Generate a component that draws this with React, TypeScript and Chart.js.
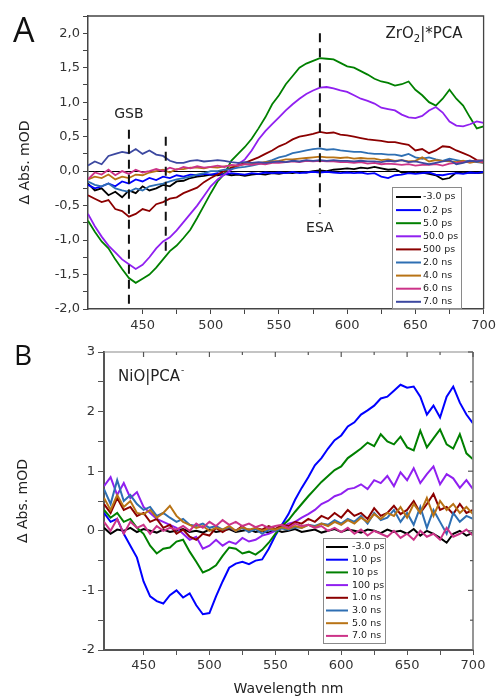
import React, { useEffect, useRef } from "react";
import { Chart, registerables } from "chart.js";

Chart.register(...registerables);

const FONT = "DejaVu Sans";
Chart.defaults.font.family = FONT;

// ---------------- Panel A: ZrO2|*PCA ----------------
const wavelengthA = [
  410, 415, 420, 425, 430, 435, 440, 445, 450, 455,
  460, 465, 470, 475, 480, 485, 490, 495, 500, 505,
  510, 515, 520, 525, 530, 535, 540, 545, 550, 555,
  560, 565, 570, 575, 580, 585, 590, 595, 600, 605,
  610, 615, 620, 625, 630, 635, 640, 645, 650, 655,
  660, 665, 670, 675, 680, 685, 690, 695, 700,
];
const labelsA = ["-3.0 ps", "0.2 ps", "5.0 ps", "50.0 ps", "500 ps", "2.0 ns", "4.0 ns", "6.0 ns", "7.0 ns"];
const colorsA = ["#000000", "#0000ff", "#008000", "#9020f0", "#8b0000", "#2e6fb3", "#b87315", "#cc3388", "#3c48a0"];

const zrM3ps = [
  -0.18, -0.28, -0.25, -0.35, -0.30, -0.38, -0.28, -0.32, -0.22, -0.28,
  -0.25, -0.20, -0.22, -0.15, -0.14, -0.10, -0.08, -0.07, -0.05, -0.06,
  -0.04, -0.06, -0.05, -0.07, -0.05, -0.04, -0.05, -0.03, -0.04, -0.02,
  -0.03, -0.01, -0.02, 0.00, 0.01, 0.00, 0.02, 0.03, 0.04, 0.03,
  0.05, 0.04, 0.06, 0.04, 0.02, 0.03, -0.02, -0.01, -0.03, -0.02,
  -0.04, -0.06, -0.12, -0.10, -0.02, -0.03, -0.02, -0.03, -0.02,
];
const zr02ps = [
  -0.20, -0.25, -0.22, -0.18, -0.22, -0.15, -0.18, -0.12, -0.15, -0.10,
  -0.13, -0.08, -0.10, -0.06, -0.08, -0.05, -0.06, -0.04, -0.05, -0.03,
  -0.05, -0.03, -0.04, -0.05, -0.03, -0.04, -0.02, -0.03, -0.02, -0.03,
  -0.01, -0.03, -0.02, -0.01, -0.02, -0.01, -0.02, -0.03, -0.02, -0.03,
  -0.02, -0.04, -0.03, -0.08, -0.10, -0.06, -0.05, -0.03, -0.04, -0.03,
  -0.02, -0.05, -0.06, -0.04, -0.03, -0.04, -0.02, -0.03, -0.01,
];
const zr5ps = [
  -0.72, -0.88, -1.02, -1.12, -1.28, -1.42, -1.55, -1.62, -1.56, -1.50,
  -1.40, -1.28, -1.16, -1.08, -0.97, -0.85, -0.68, -0.50, -0.32, -0.15,
  -0.04, 0.15, 0.25, 0.35, 0.47, 0.62, 0.78, 0.97, 1.10, 1.26,
  1.38, 1.50, 1.56, 1.60, 1.64, 1.63, 1.62, 1.57, 1.52, 1.50,
  1.45, 1.40, 1.34, 1.30, 1.28, 1.24, 1.26, 1.30, 1.18, 1.10,
  1.00, 0.95, 1.05, 1.18, 1.05, 0.95, 0.78, 0.62, 0.65,
];
const zr50ps = [
  -0.62, -0.80, -0.95, -1.08, -1.18, -1.28, -1.35, -1.42, -1.36, -1.25,
  -1.12, -1.02, -0.96, -0.86, -0.74, -0.62, -0.50, -0.36, -0.22, -0.12,
  -0.05, 0.02, 0.10, 0.17, 0.30, 0.46, 0.58, 0.68, 0.78, 0.88,
  0.97, 1.05, 1.12, 1.17, 1.21, 1.22, 1.20, 1.17, 1.15, 1.10,
  1.05, 1.02, 0.98, 0.92, 0.90, 0.88, 0.82, 0.78, 0.77, 0.80,
  0.88, 0.93, 0.85, 0.72, 0.66, 0.65, 0.68, 0.72, 0.70,
];
const zr500ps = [
  -0.35, -0.40, -0.45, -0.42, -0.55, -0.58, -0.66, -0.62, -0.55, -0.58,
  -0.48, -0.45, -0.40, -0.38, -0.32, -0.28, -0.24, -0.16, -0.10, -0.05,
  0.00, 0.05, 0.08, 0.12, 0.16, 0.20, 0.25, 0.30, 0.36, 0.40,
  0.46, 0.50, 0.52, 0.54, 0.57, 0.55, 0.56, 0.53, 0.52, 0.50,
  0.48, 0.46, 0.45, 0.44, 0.42, 0.42, 0.40, 0.38, 0.30, 0.32,
  0.26, 0.30, 0.36, 0.35, 0.30, 0.26, 0.22, 0.16, 0.15,
];
const zr2ns = [
  -0.15, -0.20, -0.22, -0.18, -0.25, -0.28, -0.30, -0.25, -0.28, -0.22,
  -0.20, -0.18, -0.15, -0.12, -0.10, -0.08, -0.05, -0.03, 0.00, 0.00,
  0.02, 0.03, 0.05, 0.06, 0.08, 0.10, 0.13, 0.16, 0.20, 0.22,
  0.26, 0.28, 0.30, 0.32, 0.33, 0.31, 0.32, 0.30, 0.29, 0.28,
  0.28, 0.26, 0.25, 0.25, 0.24, 0.24, 0.22, 0.25, 0.20, 0.18,
  0.20, 0.17, 0.15, 0.18, 0.16, 0.14, 0.15, 0.13, 0.12,
];
const zr4ns = [
  -0.12, -0.08, -0.10, -0.05, -0.12, -0.08, -0.10, -0.05, -0.06, -0.02,
  0.00, 0.02, -0.02, 0.03, 0.03, 0.05, 0.05, 0.04, 0.06, 0.05,
  0.07, 0.08, 0.08, 0.10, 0.10, 0.12, 0.13, 0.14, 0.15, 0.17,
  0.17, 0.18, 0.19, 0.20, 0.21, 0.20, 0.20, 0.19, 0.20, 0.18,
  0.19, 0.18, 0.18, 0.16, 0.17, 0.15, 0.16, 0.14, 0.15, 0.20,
  0.14, 0.16, 0.15, 0.14, 0.13, 0.15, 0.12, 0.14, 0.12,
];
const zr6ns = [
  -0.12, -0.02, -0.05, 0.02, -0.06, 0.00, -0.04, 0.02, -0.02, 0.00,
  0.03, 0.00, 0.05, 0.02, 0.06, 0.04, 0.07, 0.05, 0.06, 0.08,
  0.06, 0.09, 0.08, 0.10, 0.09, 0.11, 0.10, 0.12, 0.12, 0.13,
  0.14, 0.13, 0.15, 0.14, 0.15, 0.14, 0.14, 0.13, 0.13, 0.12,
  0.13, 0.11, 0.12, 0.10, 0.11, 0.10, 0.09, 0.10, 0.08, 0.09,
  0.09, 0.10, 0.08, 0.11, 0.12, 0.13, 0.14, 0.15, 0.13,
];
const zr7ns = [
  0.08, 0.14, 0.10, 0.22, 0.25, 0.28, 0.26, 0.32, 0.25, 0.30,
  0.24, 0.22, 0.15, 0.12, 0.12, 0.15, 0.16, 0.14, 0.15, 0.16,
  0.15, 0.13, 0.12, 0.13, 0.12, 0.13, 0.12, 0.13, 0.14, 0.13,
  0.15, 0.14, 0.16, 0.15, 0.16, 0.15, 0.16, 0.15, 0.15, 0.14,
  0.15, 0.14, 0.14, 0.13, 0.15, 0.14, 0.16, 0.13, 0.14, 0.12,
  0.10, 0.12, 0.14, 0.16, 0.10, 0.12, 0.15, 0.14, 0.16,
];
const seriesA = [zrM3ps, zr02ps, zr5ps, zr50ps, zr500ps, zr2ns, zr4ns, zr6ns, zr7ns];

// dashed marker lines: [wavelength, from value, to value]
const markersA = [
  [440, 0.6, -1.95],
  [467, 0.5, -1.2],
  [580, 2.0, -0.62],
];

// ---------------- Panel B: NiO|PCA- ----------------
const wavelengthB = [
  420, 425, 430, 435, 440, 445, 450, 455, 460, 465,
  470, 475, 480, 485, 490, 495, 500, 505, 510, 515,
  520, 525, 530, 535, 540, 545, 550, 555, 560, 565,
  570, 575, 580, 585, 590, 595, 600, 605, 610, 615,
  620, 625, 630, 635, 640, 645, 650, 655, 660, 665,
  670, 675, 680, 685, 690, 695, 700,
];
const labelsB = ["-3.0 ps", "1.0 ps", "10 ps", "100 ps", "1.0 ns", "3.0 ns", "5.0 ns", "7.0 ns"];
const colorsB = ["#000000", "#0000ff", "#008000", "#9020f0", "#8b0000", "#2e6fb3", "#b87315", "#cc3388"];

const niM3ps = [
  0.05, -0.05, 0.02, 0.00, 0.05, -0.02, 0.03, 0.00, -0.03, 0.02,
  -0.02, 0.00, 0.03, -0.02, 0.00, -0.03, 0.02, -0.02, 0.00, 0.03,
  -0.02, 0.00, 0.02, -0.02, 0.00, -0.03, 0.02, -0.02, 0.00, 0.03,
  -0.02, 0.00, 0.02, -0.03, 0.00, 0.03, -0.02, 0.02, 0.00, -0.03,
  0.02, 0.00, -0.04, 0.02, -0.02, 0.00, -0.05, 0.03, -0.08, 0.00,
  -0.05, -0.12, -0.20, -0.05, 0.00, -0.08, -0.03,
];
const ni1ps = [
  0.30, 0.15, 0.20, -0.05, -0.25, -0.45, -0.85, -1.10, -1.18, -1.22,
  -1.08, -1.00, -1.12, -1.05, -1.25, -1.40, -1.38, -1.10, -0.85, -0.62,
  -0.55, -0.52, -0.56, -0.50, -0.48, -0.30, -0.08, 0.10, 0.28, 0.52,
  0.72, 0.90, 1.10, 1.22, 1.38, 1.52, 1.60, 1.75, 1.82, 1.95,
  2.02, 2.10, 2.22, 2.25, 2.35, 2.45, 2.40, 2.42, 2.25, 1.95,
  2.10, 1.90, 2.25, 2.42, 2.15, 1.95, 1.80,
];
const ni10ps = [
  0.35, 0.22, 0.30, 0.15, 0.20, 0.05, -0.05, -0.25, -0.38, -0.30,
  -0.28, -0.18, -0.15, -0.35, -0.52, -0.70, -0.65, -0.58, -0.42, -0.28,
  -0.30, -0.38, -0.35, -0.40, -0.32, -0.20, -0.05, 0.08, 0.18, 0.32,
  0.45, 0.58, 0.70, 0.82, 0.92, 1.02, 1.08, 1.22, 1.30, 1.38,
  1.48, 1.42, 1.62, 1.50, 1.45, 1.58, 1.40, 1.35, 1.68, 1.40,
  1.55, 1.70, 1.45, 1.38, 1.62, 1.30, 1.20,
];
const ni100ps = [
  0.75, 0.90, 0.60, 0.80, 0.55, 0.65, 0.40, 0.30, 0.20, 0.15,
  0.10, 0.05, -0.05, -0.15, -0.10, -0.30, -0.25, -0.15, -0.25, -0.18,
  -0.22, -0.12, -0.18, -0.15, -0.08, -0.05, 0.00, 0.05, 0.12, 0.15,
  0.22, 0.28, 0.35, 0.45, 0.50, 0.58, 0.62, 0.70, 0.72, 0.78,
  0.70, 0.85, 0.80, 0.92, 0.75, 0.98, 0.85, 1.05, 0.80, 0.95,
  1.08, 0.78, 0.95, 0.88, 0.72, 0.85, 0.70,
];
const ni1ns = [
  0.45, 0.30, 0.55, 0.35, 0.40, 0.25, 0.30, 0.15, 0.20, 0.05,
  0.10, -0.05, 0.02, -0.10, -0.15, -0.05, -0.08, 0.05, -0.02, 0.05,
  0.00, 0.08, -0.02, 0.05, 0.02, 0.08, 0.03, 0.10, 0.08, 0.15,
  0.12, 0.20, 0.15, 0.25, 0.20, 0.30, 0.22, 0.35, 0.25, 0.30,
  0.20, 0.38, 0.25, 0.30, 0.42, 0.28, 0.35, 0.50, 0.30, 0.45,
  0.62, 0.35, 0.40, 0.28, 0.45, 0.30, 0.35,
];
const ni3ns = [
  0.70, 0.45, 0.85, 0.50, 0.60, 0.45, 0.35, 0.40, 0.25, 0.30,
  0.22, 0.15, 0.20, 0.10, 0.08, 0.12, 0.05, 0.08, 0.02, 0.06,
  0.00, 0.05, -0.02, 0.03, -0.05, 0.02, 0.00, 0.04, 0.02, 0.06,
  0.05, 0.10, 0.08, 0.12, 0.10, 0.18, 0.12, 0.20, 0.15, 0.25,
  0.12, 0.30, 0.18, 0.22, 0.35, 0.15, 0.30, 0.10, 0.40, 0.05,
  0.35, 0.15, -0.05, 0.30, 0.15, 0.25, 0.20,
];
const ni5ns = [
  0.55, 0.35, 0.60, 0.40, 0.50, 0.30, 0.28, 0.35, 0.22, 0.30,
  0.42, 0.25, 0.15, 0.10, 0.05, 0.08, 0.00, 0.05, 0.02, 0.08,
  0.00, 0.06, 0.02, 0.05, 0.00, 0.04, 0.02, 0.06, 0.03, 0.08,
  0.05, 0.10, 0.06, 0.12, 0.08, 0.15, 0.10, 0.18, 0.12, 0.22,
  0.15, 0.28, 0.20, 0.30, 0.25, 0.40, 0.22, 0.45, 0.30, 0.55,
  0.25, 0.50, 0.35, 0.45, 0.30, 0.40, 0.28,
];
const ni7ns = [
  0.15, 0.00, 0.20, -0.05, 0.15, 0.05, 0.10, -0.05, 0.08, 0.00,
  0.05, 0.02, 0.08, 0.00, 0.12, 0.05, 0.15, 0.08, 0.18, 0.10,
  0.15, 0.08, 0.12, 0.06, 0.10, 0.05, 0.08, 0.10, 0.05, 0.12,
  0.08, 0.10, 0.05, 0.08, 0.00, 0.05, -0.02, 0.05, -0.05, 0.02,
  -0.08, 0.00, -0.05, -0.10, 0.00, -0.12, -0.05, -0.15, 0.00, -0.10,
  -0.05, -0.15, 0.05, -0.10, -0.05, 0.02, -0.08,
];
const seriesB = [niM3ps, ni1ps, ni10ps, ni100ps, ni1ns, ni3ns, ni5ns, ni7ns];

// ---------------- helpers ----------------
function makeDatasets(xs: number[], series: number[][], colors: string[], labels: string[], width: number) {
  return series.map((s, i) => ({
    label: labels[i],
    data: xs.map((x, j) => ({ x, y: s[j] })),
    borderColor: colors[i],
    backgroundColor: colors[i],
    borderWidth: width,
    pointRadius: 0,
    tension: 0,
    order: series.length - i,
  }));
}

function drawLegend(
  ctx: CanvasRenderingContext2D,
  box: { x: number; y: number; w: number; h: number },
  labels: string[],
  colors: string[],
  firstRow: number,
  rowGap: number,
  sx0: number,
  sx1: number,
  tx: number
) {
  ctx.save();
  ctx.fillStyle = "#ffffff";
  ctx.fillRect(box.x, box.y, box.w, box.h);
  ctx.strokeStyle = "#8a8a8a";
  ctx.lineWidth = 1;
  ctx.strokeRect(box.x + 0.5, box.y + 0.5, box.w, box.h);
  ctx.font = `9.5px ${FONT}`;
  ctx.textAlign = "left";
  ctx.textBaseline = "middle";
  labels.forEach((lab, i) => {
    const y = firstRow + i * rowGap;
    ctx.strokeStyle = colors[i];
    ctx.lineWidth = 2;
    ctx.beginPath();
    ctx.moveTo(sx0, y);
    ctx.lineTo(sx1, y);
    ctx.stroke();
    ctx.fillStyle = "#222";
    ctx.fillText(lab, tx, y);
  });
  ctx.restore();
}

const decoA = {
  id: "decoA",
  afterDraw(chart: any) {
    const { ctx, chartArea: ca, scales } = chart;
    const xs = scales.x;
    const ys = scales.y;
    ctx.save();
    // frame (top + right)
    ctx.strokeStyle = "#444";
    ctx.lineWidth = 1.3;
    ctx.beginPath();
    ctx.moveTo(ca.left, ca.top);
    ctx.lineTo(ca.right, ca.top);
    ctx.lineTo(ca.right, ca.bottom);
    ctx.stroke();
    // dashed markers
    ctx.setLineDash([9, 6]);
    ctx.lineWidth = 2;
    ctx.strokeStyle = "#111";
    markersA.forEach(([w, v0, v1]) => {
      const px = xs.getPixelForValue(w);
      ctx.beginPath();
      ctx.moveTo(px, ys.getPixelForValue(v0));
      ctx.lineTo(px, ys.getPixelForValue(v1));
      ctx.stroke();
    });
    ctx.setLineDash([]);
    // labels
    ctx.fillStyle = "#222";
    ctx.font = `14px ${FONT}`;
    ctx.textAlign = "center";
    ctx.textBaseline = "middle";
    ctx.fillText("GSB", xs.getPixelForValue(440), ys.getPixelForValue(0.82));
    ctx.fillText("ESA", xs.getPixelForValue(580), ys.getPixelForValue(-0.83));
    // sample name ZrO2|*PCA
    ctx.textAlign = "left";
    ctx.textBaseline = "alphabetic";
    let x = ca.right - 98;
    const base = ca.top + 22;
    ctx.font = `15px ${FONT}`;
    ctx.fillText("ZrO", x, base);
    x += ctx.measureText("ZrO").width;
    ctx.font = `10px ${FONT}`;
    ctx.fillText("2", x, base + 4);
    x += ctx.measureText("2").width;
    ctx.font = `15px ${FONT}`;
    ctx.fillText("|*PCA", x, base);
    // panel letter
    ctx.font = `34px "Open Sans"`;
    ctx.fillStyle = "#111";
    ctx.fillText("A", 13, 42);
    ctx.restore();
    // legend
    drawLegend(ctx, { x: 392, y: 187, w: 69, h: 121 }, labelsA, colorsA, 197, 13.1, 396, 421, 423);
  },
};

const decoB = {
  id: "decoB",
  afterDraw(chart: any) {
    const { ctx, chartArea: ca, scales } = chart;
    const xs = scales.x;
    const ys = scales.y;
    ctx.save();
    ctx.strokeStyle = "#8a8a8a";
    ctx.lineWidth = 1.2;
    ctx.beginPath();
    ctx.moveTo(ca.left, ca.top);
    ctx.lineTo(ca.right, ca.top);
    ctx.stroke();
    ctx.lineWidth = 1.8;
    ctx.beginPath();
    ctx.moveTo(ca.right, ca.top);
    ctx.lineTo(ca.right, ca.bottom);
    ctx.stroke();
    // inward ticks on top and right
    ctx.lineWidth = 1.2;
    ctx.strokeStyle = "#555";
    xs.ticks.forEach((t: any) => {
      const px = xs.getPixelForValue(t.value);
      const len = Math.round(t.value) % 50 === 0 ? 5 : 3;
      ctx.beginPath();
      ctx.moveTo(px, ca.top);
      ctx.lineTo(px, ca.top + len);
      ctx.stroke();
    });
    ys.ticks.forEach((t: any) => {
      const py = ys.getPixelForValue(t.value);
      const len = Math.round(t.value * 10) % 10 === 0 ? 5 : 3;
      ctx.beginPath();
      ctx.moveTo(ca.right, py);
      ctx.lineTo(ca.right - len, py);
      ctx.stroke();
    });
    // sample name NiO|PCA-
    ctx.fillStyle = "#222";
    ctx.textAlign = "left";
    ctx.textBaseline = "alphabetic";
    let x = ca.left + 14;
    const base = ca.top + 29;
    ctx.font = `15px ${FONT}`;
    ctx.fillText("NiO|PCA", x, base);
    x += ctx.measureText("NiO|PCA").width + 1;
    ctx.font = `9px ${FONT}`;
    ctx.fillText("-", x, base - 8);
    // panel letter
    ctx.font = `28px "Open Sans"`;
    ctx.fillStyle = "#111";
    ctx.fillText("B", 14, 25);
    ctx.restore();
    drawLegend(ctx, { x: 323, y: 198, w: 62, h: 105 }, labelsB, colorsB, 207, 12.7, 326, 348, 352);
  },
};

function configA(): any {
  return {
    type: "line",
    data: { datasets: makeDatasets(wavelengthA, seriesA, colorsA, labelsA, 1.8) },
    plugins: [decoA],
    options: {
      animation: false,
      responsive: false,
      layout: { padding: { top: 16, right: 14, left: 0, bottom: 0 } },
      plugins: { legend: { display: false }, tooltip: { enabled: false } },
      scales: {
        x: {
          type: "linear",
          min: 410,
          max: 700,
          afterBuildTicks: (s: any) => {
            s.ticks = s.ticks.filter((t: any) => Math.round(t.value) % 25 === 0);
          },
          afterFit: (s: any) => {
            s.height = 31;
          },
          ticks: {
            stepSize: 25,
            autoSkip: false,
            maxRotation: 0,
            padding: 4,
            color: "#333",
            font: { size: 13, family: FONT },
            callback: (v: number) => (Math.round(v) % 50 === 0 ? String(v) : ""),
          },
          grid: { drawOnChartArea: false, drawTicks: true, tickLength: 5, color: "#444" },
          border: { display: true, color: "#444", width: 1.5 },
        },
        y: {
          type: "linear",
          min: -2,
          max: 2.25,
          afterBuildTicks: (s: any) => {
            s.ticks = s.ticks.filter((t: any) => Math.round(t.value * 100) % 25 === 0);
          },
          afterFit: (s: any) => {
            s.width = 88;
          },
          ticks: {
            stepSize: 0.25,
            autoSkip: false,
            padding: 3,
            color: "#333",
            font: { size: 13, family: FONT },
            callback: (v: number) =>
              Math.round(v * 100) % 50 === 0 ? v.toFixed(1).replace(".", ",") : "",
          },
          grid: {
            drawOnChartArea: true,
            drawTicks: true,
            tickLength: 5,
            tickColor: "#444",
            lineWidth: 1,
            color: (c: any) => (c.tick && Math.abs(c.tick.value) < 1e-9 ? "#000" : "rgba(0,0,0,0)"),
          },
          border: { display: true, color: "#444", width: 1.5 },
          title: {
            display: true,
            text: "Δ Abs. mOD",
            color: "#222",
            font: { size: 14, family: FONT },
            padding: { top: 17, bottom: 0 },
          },
        },
      },
    },
  };
}

function configB(): any {
  return {
    type: "line",
    data: { datasets: makeDatasets(wavelengthB, seriesB, colorsB, labelsB, 2) },
    plugins: [decoB],
    options: {
      animation: false,
      responsive: false,
      layout: { padding: { top: 12, right: 27, left: 0, bottom: 0 } },
      plugins: { legend: { display: false }, tooltip: { enabled: false } },
      scales: {
        x: {
          type: "linear",
          min: 420,
          max: 700,
          afterBuildTicks: (s: any) => {
            s.ticks = s.ticks.filter((t: any) => Math.round(t.value) % 25 === 0);
          },
          afterFit: (s: any) => {
            s.height = 50;
          },
          ticks: {
            stepSize: 25,
            autoSkip: false,
            maxRotation: 0,
            padding: 3,
            color: "#333",
            font: { size: 13, family: FONT },
            callback: (v: number) => (Math.round(v) % 50 === 0 ? String(v) : ""),
          },
          grid: { drawOnChartArea: false, drawTicks: true, tickLength: 5, color: "#555" },
          border: { display: true, color: "#555", width: 2 },
          title: {
            display: true,
            text: "Wavelength nm",
            color: "#222",
            font: { size: 14, family: FONT },
            padding: { top: 0, bottom: 2 },
          },
        },
        y: {
          type: "linear",
          min: -2,
          max: 3,
          afterBuildTicks: (s: any) => {
            s.ticks = s.ticks.filter((t: any) => Math.round(t.value * 10) % 5 === 0);
          },
          afterFit: (s: any) => {
            s.width = 104;
          },
          ticks: {
            stepSize: 0.5,
            autoSkip: false,
            padding: 3,
            color: "#333",
            font: { size: 13, family: FONT },
            callback: (v: number) => (Math.round(v * 10) % 10 === 0 ? String(Math.round(v)) : ""),
          },
          grid: { drawOnChartArea: false, drawTicks: true, tickLength: 6, color: "#555" },
          border: { display: true, color: "#555", width: 2 },
          title: {
            display: true,
            text: "Δ Abs. mOD",
            color: "#222",
            font: { size: 14, family: FONT },
            padding: { top: 15, bottom: 0 },
          },
        },
      },
    },
  };
}

export default function App() {
  const refA = useRef<HTMLCanvasElement>(null);
  const refB = useRef<HTMLCanvasElement>(null);

  useEffect(() => {
    const a = new Chart(refA.current as HTMLCanvasElement, configA());
    const b = new Chart(refB.current as HTMLCanvasElement, configB());
    return () => {
      a.destroy();
      b.destroy();
    };
  }, []);

  return (
    <div style={{ position: "absolute", left: 0, top: 0, width: 500, height: 700, background: "#fff" }}>
      <canvas
        ref={refA}
        width={500}
        height={340}
        style={{ position: "absolute", left: 0, top: 0, width: 500, height: 340 }}
      />
      <canvas
        ref={refB}
        width={500}
        height={360}
        style={{ position: "absolute", left: 0, top: 340, width: 500, height: 360 }}
      />
    </div>
  );
}
